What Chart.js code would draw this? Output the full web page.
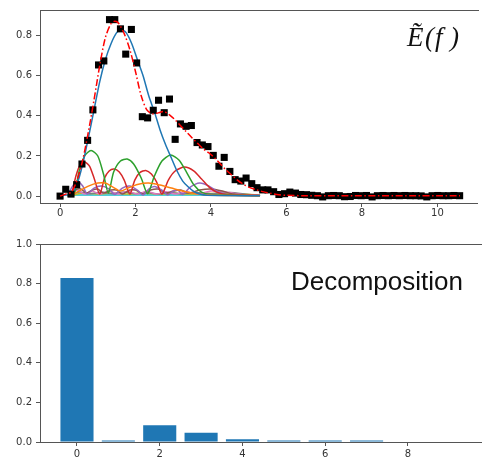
<!DOCTYPE html>
<html>
<head>
<meta charset="utf-8">
<script src="https://cdn.jsdelivr.net/npm/chart.js@4/dist/chart.umd.min.js"></script>
<style>
  html, body { margin: 0; padding: 0; background: #fff; overflow: hidden; }
  #top { position: absolute; left: 0; top: 0; width: 482px; height: 222px; }
  #bottom { position: absolute; left: 0; top: 222px; width: 482px; height: 237px; }
</style>
</head>
<body>
<div id="top"><canvas id="spectrum"></canvas></div>
<div id="bottom"><canvas id="weights"></canvas></div>
<script>
// measured spectrum samples
const obsX = [0.00, 0.15, 0.29, 0.44, 0.58, 0.73, 0.87, 1.02, 1.16, 1.31, 1.45, 1.60, 1.74, 1.89, 2.03,
  2.18, 2.32, 2.47, 2.61, 2.76, 2.90, 3.05, 3.19, 3.34, 3.48, 3.63, 3.77, 3.92, 4.06, 4.21,
  4.35, 4.50, 4.64, 4.79, 4.93, 5.08, 5.22, 5.37, 5.51, 5.66, 5.80, 5.95, 6.09, 6.24, 6.38,
  6.53, 6.67, 6.82, 6.96, 7.11, 7.25, 7.40, 7.54, 7.69, 7.83, 7.98, 8.12, 8.27, 8.41, 8.56,
  8.70, 8.85, 8.99, 9.14, 9.28, 9.43, 9.57, 9.72, 9.86, 10.01, 10.15, 10.30, 10.44, 10.59];
const obsY = [0.000, 0.034, 0.010, 0.057, 0.160, 0.278, 0.430, 0.654, 0.674, 0.880, 0.880, 0.834, 0.708, 0.831, 0.664,
  0.396, 0.390, 0.428, 0.478, 0.416, 0.484, 0.283, 0.360, 0.348, 0.352, 0.267, 0.255, 0.247, 0.203, 0.149,
  0.193, 0.123, 0.082, 0.075, 0.090, 0.062, 0.042, 0.031, 0.031, 0.022, 0.008, 0.012, 0.020, 0.015, 0.008,
  0.007, 0.004, 0.002, -0.004, 0.002, 0.003, 0.002, -0.003, -0.002, 0.003, 0.002, 0.003, -0.004, 0.002, 0.003,
  0.002, 0.003, 0.002, 0.003, 0.002, 0.002, 0.001, -0.004, 0.002, 0.003, 0.002, 0.002, 0.003, 0.002];

// fitted sum (red dash-dot)
const fitCurve = [[0, 0.0], [0.15, 0.01], [0.3, 0.02], [0.45, 0.08], [0.6, 0.18], [0.75, 0.32], [0.9, 0.48],
  [1.05, 0.65], [1.2, 0.79], [1.35, 0.86], [1.45, 0.872], [1.55, 0.862], [1.7, 0.81], [1.85, 0.73], [2.0, 0.62],
  [2.15, 0.5], [2.3, 0.43], [2.45, 0.41], [2.6, 0.415], [2.75, 0.422], [2.9, 0.405], [3.05, 0.38], [3.2, 0.35],
  [3.35, 0.32], [3.5, 0.29], [3.65, 0.262], [3.8, 0.235], [3.95, 0.215], [4.1, 0.19], [4.25, 0.16], [4.4, 0.13],
  [4.55, 0.105], [4.7, 0.08], [4.85, 0.06], [5.0, 0.045], [5.2, 0.032], [5.4, 0.021], [5.6, 0.013], [5.8, 0.007],
  [6.0, 0.004], [6.5, 0.002], [10.6, 0.002]];

// components, one list of [f, value] per mode
const mode0 = [[0, 0.004], [0.3, 0.01], [0.45, 0.06], [0.6, 0.16], [0.75, 0.29], [0.9, 0.43], [1.05, 0.57],
  [1.2, 0.68], [1.35, 0.76], [1.5, 0.815], [1.62, 0.83], [1.75, 0.815], [1.9, 0.76], [2.05, 0.68], [2.2, 0.6],
  [2.35, 0.5], [2.5, 0.42], [2.65, 0.33], [2.8, 0.255], [2.95, 0.19], [3.1, 0.125], [3.25, 0.075], [3.4, 0.045],
  [3.55, 0.022], [3.7, 0.01], [3.9, 0.004], [5.3, 0.002]];
const mode1 = [[0.25, 0.0], [0.5, 0.025], [0.75, 0.05], [1.0, 0.065], [1.2, 0.065], [1.4, 0.045], [1.6, 0.025],
  [1.8, 0.04], [2.05, 0.058], [2.35, 0.065], [2.65, 0.055], [2.95, 0.04], [3.25, 0.025], [3.6, 0.012], [4.0, 0.006],
  [4.6, 0.003], [5.3, 0.002]];
const mode2 = [[0.2, 0.0], [0.38, 0.015], [0.5, 0.12], [0.65, 0.2], [0.82, 0.228], [1.0, 0.2], [1.15, 0.11],
  [1.28, 0.015], [1.42, 0.12], [1.6, 0.175], [1.78, 0.185], [1.95, 0.16], [2.15, 0.09], [2.32, 0.012], [2.5, 0.1],
  [2.7, 0.175], [2.93, 0.205], [3.15, 0.18], [3.35, 0.12], [3.55, 0.055], [3.75, 0.02], [4.0, 0.008], [4.5, 0.004],
  [5.3, 0.002]];
const mode3 = [[0.2, 0.0], [0.3, 0.01], [0.42, 0.1], [0.53, 0.155], [0.65, 0.17], [0.78, 0.15], [0.9, 0.09],
  [1.05, 0.01], [1.18, 0.09], [1.3, 0.125], [1.43, 0.135], [1.57, 0.12], [1.7, 0.08], [1.85, 0.01], [1.98, 0.08],
  [2.12, 0.118], [2.27, 0.128], [2.42, 0.11], [2.56, 0.07], [2.7, 0.01], [2.87, 0.08], [3.05, 0.125], [3.3, 0.145],
  [3.55, 0.125], [3.75, 0.085], [3.95, 0.045], [4.15, 0.02], [4.4, 0.008], [5.3, 0.003]];
const mode4 = [[0.2, 0.0], [0.3, 0.04], [0.45, 0.075], [0.6, 0.05], [0.72, 0.01], [0.9, 0.04], [1.1, 0.05],
  [1.3, 0.035], [1.45, 0.008], [1.65, 0.04], [1.85, 0.05], [2.05, 0.03], [2.2, 0.006], [2.35, 0.035], [2.5, 0.048],
  [2.7, 0.03], [2.85, 0.006], [3.0, 0.025], [3.12, 0.03], [3.25, 0.008], [3.45, 0.045], [3.7, 0.065], [3.95, 0.05],
  [4.15, 0.025], [4.4, 0.008], [4.8, 0.003], [5.3, 0.002]];
const mode5 = [[0.25, 0.0], [0.4, 0.03], [0.55, 0.035], [0.7, 0.015], [0.85, 0.03], [1.0, 0.035], [1.15, 0.015],
  [1.35, 0.03], [1.5, 0.03], [1.65, 0.01], [1.85, 0.03], [2.0, 0.03], [2.2, 0.01], [2.4, 0.03], [2.6, 0.035],
  [2.8, 0.015], [3.0, 0.025], [3.2, 0.03], [3.4, 0.015], [3.7, 0.03], [4.0, 0.035], [4.3, 0.025], [4.6, 0.01],
  [5.0, 0.004], [5.3, 0.002]];
const mode6 = [[0.25, 0.0], [0.45, 0.03], [0.65, 0.01], [0.85, 0.025], [1.05, 0.01], [1.3, 0.025], [1.55, 0.01],
  [1.8, 0.025], [2.05, 0.01], [2.3, 0.025], [2.55, 0.01], [2.8, 0.022], [3.05, 0.01], [3.35, 0.022], [3.65, 0.01],
  [4.0, 0.025], [4.4, 0.02], [4.8, 0.008], [5.3, 0.003]];
const mode7 = [[0.25, 0.0], [0.5, 0.02], [0.8, 0.012], [1.1, 0.02], [1.4, 0.012], [1.7, 0.02], [2.0, 0.012],
  [2.3, 0.018], [2.6, 0.01], [2.9, 0.018], [3.2, 0.012], [3.6, 0.018], [4.0, 0.012], [4.5, 0.018], [5.0, 0.008],
  [5.3, 0.004]];
const mode8 = [[0.25, 0.0], [0.6, 0.015], [1.0, 0.01], [1.4, 0.015], [1.8, 0.01], [2.2, 0.015], [2.6, 0.01],
  [3.0, 0.014], [3.4, 0.01], [3.8, 0.014], [4.3, 0.012], [4.8, 0.01], [5.3, 0.005]];
const mode9 = [[0.3, 0.006], [1.0, 0.006], [2.0, 0.006], [3.0, 0.006], [4.0, 0.006], [5.0, 0.005], [5.3, 0.004]];

// weight of each mode
const modeIndex = [0, 1, 2, 3, 4, 5, 6, 7, 8, 9];
const modeWeight = [0.828, 0.008, 0.084, 0.047, 0.014, 0.008, 0.008, 0.008, 0.0, 0.0];

const topTicks = [0, 0.2, 0.4, 0.6, 0.8];
const bottomTicks = [0, 0.2, 0.4, 0.6, 0.8, 1.0];

const tab10 = ['#1f77b4', '#ff7f0e', '#2ca02c', '#d62728', '#9467bd',
  '#8c564b', '#e377c2', '#7f7f7f', '#bcbd22', '#17becf'];
const modes = [mode0, mode1, mode2, mode3, mode4, mode5, mode6, mode7, mode8, mode9];

const toPts = arr => arr.map(p => ({ x: p[0], y: p[1] }));

const tickFont = { family: 'DejaVu Sans', size: 10 };
const axisColor = '#555';

function axisCommon(pad) {
  return {
    offset: false,
    grid: { display: true, offset: false, drawOnChartArea: false, drawTicks: true, tickLength: 4, color: axisColor },
    border: { display: true, color: axisColor, width: 1 },
    ticks: { color: '#333', font: tickFont, padding: pad, includeBounds: false, maxRotation: 0, autoSkip: false }
  };
}

// top spine and a text label inside the plot
function frameAndLabel(drawLabel) {
  return {
    id: 'frameAndLabel',
    afterDraw(chart) {
      const { ctx, chartArea } = chart;
      ctx.save();
      ctx.strokeStyle = axisColor;
      ctx.lineWidth = 1;
      ctx.beginPath();
      ctx.moveTo(chartArea.left, chartArea.top + 0.5);
      ctx.lineTo(chartArea.right + 2, chartArea.top + 0.5);
      ctx.stroke();
      drawLabel(ctx);
      ctx.restore();
    }
  };
}

const lineSets = modes.map((m, i) => ({
  type: 'line',
  data: toPts(m),
  borderColor: tab10[i],
  borderWidth: 1.5,
  pointRadius: 0,
  tension: 0.25,
  fill: false,
  order: i === 0 ? 2 : 3
}));

const topX = axisCommon(0);
topX.type = 'linear';
topX.min = -0.532;
topX.max = 11.05;
topX.ticks.stepSize = 2;
topX.afterFit = s => { s.height = 19; };

const topY = axisCommon(4);
topY.type = 'linear';
topY.min = -0.0344;
topY.max = 0.928;
topY.afterBuildTicks = s => { s.ticks = topTicks.map(v => ({ value: v })); };
topY.ticks.callback = v => v.toFixed(1);
topY.afterFit = s => { s.width = 40; };

new Chart(document.getElementById('spectrum'), {
  data: {
    datasets: [
      {
        type: 'line',
        data: toPts(fitCurve),
        borderColor: '#ff0000',
        borderWidth: 1.5,
        borderDash: [7, 2.5, 1.5, 2.5],
        pointRadius: 0,
        tension: 0.3,
        fill: false,
        order: 0
      },
      {
        type: 'scatter',
        data: obsX.map((x, i) => ({ x: x, y: obsY[i] })),
        pointStyle: 'rect',
        pointRadius: 5,
        backgroundColor: '#000',
        borderColor: '#000',
        borderWidth: 0,
        order: 1
      },
      ...lineSets
    ]
  },
  options: {
    responsive: true,
    maintainAspectRatio: false,
    animation: false,
    layout: { padding: { top: 7, right: 0, left: 0, bottom: 0 } },
    plugins: { legend: { display: false }, tooltip: { enabled: false } },
    scales: { x: topX, y: topY }
  },
  plugins: [frameAndLabel(ctx => {
    ctx.fillStyle = '#111';
    ctx.font = 'italic 27px "Liberation Serif"';
    ctx.textBaseline = 'alphabetic';
    ctx.fillText('Ẽ', 407, 46);
    ctx.fillText('(', 425, 46);
    ctx.fillText('f', 435, 46);
    ctx.fillText(')', 450, 46);
  })]
});

const botX = axisCommon(2);
botX.type = 'linear';
botX.min = -0.894;
botX.max = 9.79;
botX.ticks.stepSize = 2;
botX.afterFit = s => { s.height = 17; };

const botY = axisCommon(4);
botY.type = 'linear';
botY.min = 0;
botY.max = 1.0;
botY.afterBuildTicks = s => { s.ticks = bottomTicks.map(v => ({ value: v })); };
botY.ticks.callback = v => v.toFixed(1);
botY.afterFit = s => { s.width = 40; };

new Chart(document.getElementById('weights'), {
  type: 'bar',
  data: {
    datasets: [{
      data: modeIndex.map((k, i) => ({ x: k, y: modeWeight[i] })),
      backgroundColor: '#1f77b4',
      borderWidth: 0,
      categoryPercentage: 1.0,
      barPercentage: 0.8
    }]
  },
  options: {
    responsive: true,
    maintainAspectRatio: false,
    animation: false,
    layout: { padding: { top: 22, right: 0, left: 0, bottom: 0 } },
    plugins: { legend: { display: false }, tooltip: { enabled: false } },
    scales: { x: botX, y: botY }
  },
  plugins: [frameAndLabel(ctx => {
    ctx.fillStyle = '#111';
    ctx.font = '26px "Liberation Sans"';
    ctx.textBaseline = 'alphabetic';
    ctx.fillText('Decomposition', 291, 68);
  })]
});
</script>
</body>
</html>
